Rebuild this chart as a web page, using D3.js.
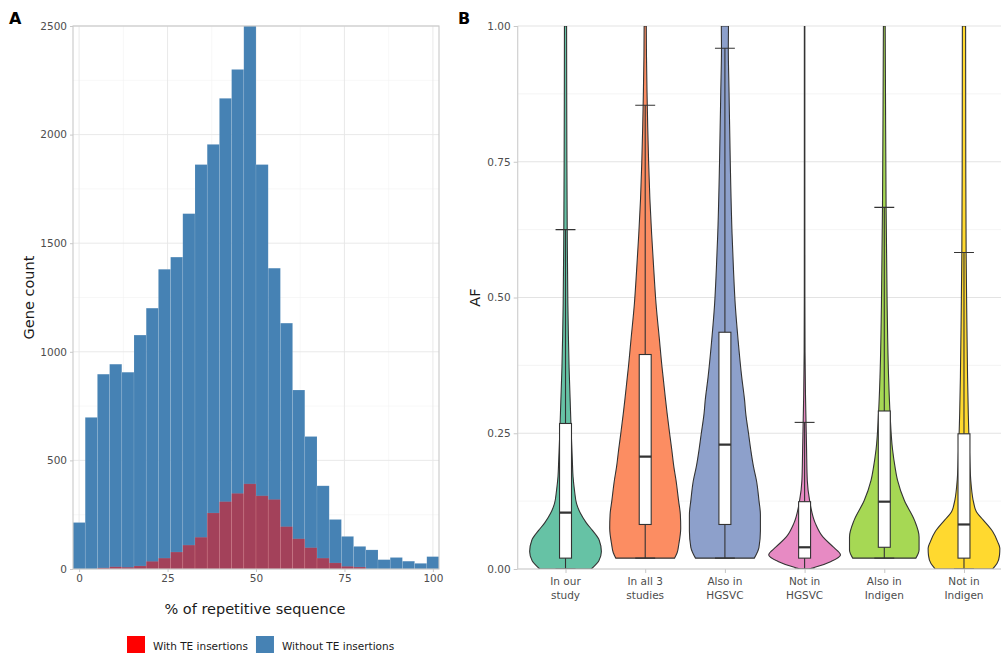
<!DOCTYPE html>
<html>
<head>
<meta charset="utf-8">
<script src="https://cdn.jsdelivr.net/npm/d3@7"></script>
<style>
  html, body { margin: 0; padding: 0; background: #fff; }
  svg { display: block; font-family: "DejaVu Sans", sans-serif; }
</style>
</head>
<body>
<svg id="chart" width="1001" height="653"></svg>
<script>
// ---------------- Panel A data ----------------
const binCount = 30;
const binRange = [0, 100];
const withoutTE = [214, 698, 897, 943, 906, 1077, 1201, 1380, 1436, 1636, 1862, 1955, 2167, 2300, 2500,
                   1862, 1385, 1132, 824, 610, 383, 228, 150, 104, 88, 43, 53, 36, 26, 57];
const withTE = [0, 0, 5, 10, 8, 14, 35, 50, 78, 110, 146, 258, 310, 348, 392,
                337, 320, 195, 139, 98, 50, 28, 12, 9, 0, 0, 0, 0, 0, 0];
const histXTicks = [0, 25, 50, 75, 100];
const histYTicks = [0, 500, 1000, 1500, 2000, 2500];
const legendLabels = ["With TE insertions", "Without TE insertions"];

// ---------------- Panel B data ----------------
const groups = ["In our study", "In all 3 studies", "Also in HGSVC", "Not in HGSVC", "Also in Indigen", "Not in Indigen"];
const groupLabels = [["In our", "study"], ["In all 3", "studies"], ["Also in", "HGSVC"], ["Not in", "HGSVC"], ["Also in", "Indigen"], ["Not in", "Indigen"]];
const groupColors = ["#66C2A5", "#FC8D62", "#8DA0CB", "#E78AC3", "#A6D854", "#FFD92F"];
// box stats
const boxMin = [0.00, 0.02, 0.02, 0.00, 0.02, 0.00];
const boxQ1 = [0.020, 0.082, 0.082, 0.020, 0.040, 0.020];
const boxMed = [0.104, 0.207, 0.229, 0.040, 0.124, 0.082];
const boxQ3 = [0.268, 0.395, 0.436, 0.124, 0.291, 0.249];
const boxMax = [0.625, 0.854, 0.959, 0.270, 0.666, 0.583];
// violin outlines: [AF, relative half-width]
const violinInOurStudy = [[0,0.72],[0.015,0.93],[0.032,1.0],[0.053,0.94],[0.071,0.75],[0.085,0.58],[0.102,0.42],[0.12,0.31],[0.145,0.25],[0.17,0.21],[0.2,0.19],[0.25,0.16],[0.31,0.13],[0.37,0.1],[0.43,0.08],[0.49,0.065],[0.62,0.048],[0.75,0.038],[0.88,0.033],[1.0,0.03]];
const violinInAll3 = [[0.02,0.82],[0.03,0.89],[0.047,0.94],[0.075,0.99],[0.1,0.98],[0.126,0.93],[0.163,0.86],[0.1875,0.8],[0.22,0.74],[0.25,0.68],[0.287,0.61],[0.31,0.57],[0.353,0.5],[0.371,0.47],[0.42,0.4],[0.49,0.3],[0.55,0.24],[0.616,0.18],[0.682,0.13],[0.75,0.095],[0.814,0.07],[0.88,0.05],[0.946,0.035],[1.0,0.03]];
const violinAlsoHGSVC = [[0.02,0.82],[0.04,0.95],[0.07,0.99],[0.1,0.99],[0.126,0.95],[0.163,0.88],[0.1875,0.8],[0.22,0.72],[0.249,0.66],[0.287,0.58],[0.31,0.55],[0.353,0.47],[0.42,0.37],[0.485,0.29],[0.55,0.24],[0.616,0.2],[0.748,0.15],[0.88,0.115],[0.96,0.095],[1.0,0.1]];
const violinNotHGSVC = [[0,0.12],[0.004,0.33],[0.014,0.74],[0.026,1.0],[0.041,0.79],[0.059,0.51],[0.084,0.3],[0.126,0.14],[0.163,0.075],[0.22,0.055],[0.27,0.04],[0.32,0.025],[0.4,0.012],[0.5,0.008],[0.75,0.007],[1.0,0.007]];
const violinAlsoIndigen = [[0.02,0.88],[0.035,0.97],[0.059,0.97],[0.09,0.84],[0.126,0.56],[0.163,0.37],[0.1875,0.3],[0.22,0.23],[0.287,0.16],[0.353,0.12],[0.485,0.08],[0.67,0.05],[0.85,0.035],[1.0,0.025]];
const violinNotIndigen = [[0,0.8],[0.01,0.92],[0.025,0.99],[0.038,1.0],[0.05,0.94],[0.069,0.8],[0.09,0.54],[0.105,0.35],[0.122,0.27],[0.155,0.2],[0.22,0.15],[0.287,0.12],[0.353,0.1],[0.485,0.075],[0.583,0.06],[0.75,0.05],[1.0,0.045]];
const violins = [violinInOurStudy, violinInAll3, violinAlsoHGSVC, violinNotHGSVC, violinAlsoIndigen, violinNotIndigen];
const afTicks = [0, 0.25, 0.5, 0.75, 1.0];

const svg = d3.select("#chart");
const tickColor = "#4d4d4d";

// ================= Panel A =================
const binWidth = (binRange[1] - binRange[0]) / (binCount - 1);
const A = {left: 73, right: 439, top: 26, bottom: 569};
const xA = d3.scaleLinear().domain([binRange[0] - binWidth / 2, binRange[1] + binWidth / 2]).range([A.left, A.right]);
const yA = d3.scaleLinear().domain([0, 2500]).range([A.bottom, A.top]);

const gA = svg.append("g");
const minorX = histXTicks.slice(0, -1).map((d, i) => (d + histXTicks[i + 1]) / 2);
const minorY = histYTicks.slice(0, -1).map((d, i) => (d + histYTicks[i + 1]) / 2);
gA.selectAll(".mgx").data(minorX).join("line")
  .attr("x1", d => xA(d)).attr("x2", d => xA(d)).attr("y1", A.top).attr("y2", A.bottom)
  .attr("stroke", "#f2f2f2").attr("stroke-width", 0.6);
gA.selectAll(".mgy").data(minorY).join("line")
  .attr("x1", A.left).attr("x2", A.right).attr("y1", d => yA(d)).attr("y2", d => yA(d))
  .attr("stroke", "#f2f2f2").attr("stroke-width", 0.6);
gA.selectAll(".Mgx").data(histXTicks).join("line")
  .attr("x1", d => xA(d)).attr("x2", d => xA(d)).attr("y1", A.top).attr("y2", A.bottom)
  .attr("stroke", "#e6e6e6").attr("stroke-width", 0.9);
gA.selectAll(".Mgy").data(histYTicks).join("line")
  .attr("x1", A.left).attr("x2", A.right).attr("y1", d => yA(d)).attr("y2", d => yA(d))
  .attr("stroke", "#e6e6e6").attr("stroke-width", 0.9);

const bins = withoutTE.map((v, i) => ({i, x0: binRange[0] + (i - 0.5) * binWidth, x1: binRange[0] + (i + 0.5) * binWidth, blue: v, red: withTE[i]}));
gA.selectAll(".blue").data(bins).join("rect")
  .attr("x", d => xA(d.x0)).attr("width", d => xA(d.x1) - xA(d.x0))
  .attr("y", d => yA(d.blue)).attr("height", d => yA(0) - yA(d.blue))
  .attr("fill", "#4682B4").attr("stroke", "rgba(255,255,255,0.18)").attr("stroke-width", 0.6);
gA.selectAll(".red").data(bins.filter(d => d.red > 0)).join("rect")
  .attr("x", d => xA(d.x0)).attr("width", d => xA(d.x1) - xA(d.x0))
  .attr("y", d => yA(d.red)).attr("height", d => yA(0) - yA(d.red))
  .attr("fill", "#FF0000").attr("fill-opacity", 0.5).attr("stroke", "rgba(255,255,255,0.12)").attr("stroke-width", 0.6);

gA.append("rect").attr("x", A.left).attr("y", A.top).attr("width", A.right - A.left).attr("height", A.bottom - A.top)
  .attr("fill", "none").attr("stroke", "#c9c9c9").attr("stroke-width", 1.1);

const axAx = gA.append("g").attr("transform", `translate(0,${A.bottom})`)
  .call(d3.axisBottom(xA).tickValues(histXTicks).tickSize(3).tickPadding(3).tickFormat(d3.format("d")));
const axAy = gA.append("g").attr("transform", `translate(${A.left},0)`)
  .call(d3.axisLeft(yA).tickValues(histYTicks).tickSize(3).tickPadding(3).tickFormat(d3.format("d")));
[axAx, axAy].forEach(ax => {
  ax.select(".domain").remove();
  ax.selectAll(".tick line").attr("stroke", "#c9c9c9");
  ax.selectAll(".tick text").attr("fill", tickColor).style("font-size", "10.5px").style("font-family", "DejaVu Sans");
});

gA.append("text").attr("x", (A.left + A.right) / 2 - 1).attr("y", 614).attr("text-anchor", "middle")
  .style("font-size", "14.5px").attr("fill", "#1a1a1a").text("% of repetitive sequence");
gA.append("text").attr("transform", `translate(34,${(A.top + A.bottom) / 2}) rotate(-90)`).attr("text-anchor", "middle")
  .style("font-size", "14.5px").attr("fill", "#1a1a1a").text("Gene count");

const legendColors = ["#FF0000", "#4682B4"];
let lx = 127;
legendLabels.forEach((lab, i) => {
  gA.append("rect").attr("x", lx).attr("y", 636).attr("width", 18).attr("height", 18).attr("fill", legendColors[i]);
  const t = gA.append("text").attr("x", lx + 26).attr("y", 649.5).style("font-size", "10.5px").attr("fill", "#1a1a1a").text(lab);
  lx = lx + 26 + t.node().getComputedTextLength() + 8;
});

// ================= Panel B =================
const B = {left: 517.7, right: 1011.8, top: 26, bottom: 569};
const xB = d3.scalePoint().domain(groups).range([B.left, B.right]).padding(0.6);
const step = xB.step();
const yB = d3.scaleLinear().domain([0, 1]).range([B.bottom, B.top]);
const gB = svg.append("g");

const minorAF = afTicks.slice(0, -1).map((d, i) => (d + afTicks[i + 1]) / 2);
gB.selectAll(".mg").data(minorAF).join("line")
  .attr("x1", B.left).attr("x2", B.right).attr("y1", d => yB(d)).attr("y2", d => yB(d))
  .attr("stroke", "#efefef").attr("stroke-width", 0.7);
gB.selectAll(".Mg").data(afTicks).join("line")
  .attr("x1", B.left).attr("x2", B.right).attr("y1", d => yB(d)).attr("y2", d => yB(d))
  .attr("stroke", "#e3e3e3").attr("stroke-width", 1);

svg.append("defs").append("clipPath").attr("id", "clipB")
  .append("rect").attr("x", B.left).attr("y", B.top).attr("width", B.right - B.left).attr("height", B.bottom - B.top);
const plotB = gB.append("g").attr("clip-path", "url(#clipB)");

const lineCol = "#333333";
groups.forEach((g, i) => {
  const cx = xB(g);
  const maxHalf = 0.45 * step;
  const area = d3.area()
    .y(d => yB(d[0]))
    .x0(d => cx - d[1] * maxHalf)
    .x1(d => cx + d[1] * maxHalf)
    .curve(d3.curveMonotoneY);
  plotB.append("path").attr("d", area(violins[i]))
    .attr("fill", groupColors[i]).attr("stroke", lineCol).attr("stroke-width", 1.1).attr("stroke-linejoin", "round");
  const capHalf = 0.125 * step;
  plotB.append("line").attr("x1", cx).attr("x2", cx).attr("y1", yB(boxMin[i])).attr("y2", yB(boxMax[i]))
    .attr("stroke", lineCol).attr("stroke-width", 1.1);
  [boxMin[i], boxMax[i]].forEach(v => {
    plotB.append("line").attr("x1", cx - capHalf).attr("x2", cx + capHalf).attr("y1", yB(v)).attr("y2", yB(v))
      .attr("stroke", lineCol).attr("stroke-width", 1.1);
  });
  const boxHalf = 0.075 * step;
  plotB.append("rect").attr("x", cx - boxHalf).attr("width", 2 * boxHalf)
    .attr("y", yB(boxQ3[i])).attr("height", yB(boxQ1[i]) - yB(boxQ3[i]))
    .attr("fill", "#ffffff").attr("stroke", lineCol).attr("stroke-width", 1.1);
  plotB.append("line").attr("x1", cx - boxHalf).attr("x2", cx + boxHalf).attr("y1", yB(boxMed[i])).attr("y2", yB(boxMed[i]))
    .attr("stroke", lineCol).attr("stroke-width", 2.2);
});

gB.append("line").attr("x1", B.left).attr("x2", B.left).attr("y1", B.top).attr("y2", B.bottom)
  .attr("stroke", "#d0d0d0").attr("stroke-width", 1.2);
gB.append("line").attr("x1", B.left).attr("x2", B.right).attr("y1", B.bottom).attr("y2", B.bottom)
  .attr("stroke", "#d0d0d0").attr("stroke-width", 1.2);

const axBy = gB.append("g").attr("transform", `translate(${B.left},0)`)
  .call(d3.axisLeft(yB).tickValues(afTicks).tickSize(4).tickPadding(3).tickFormat(d3.format(".2f")));
const axBx = gB.append("g").attr("transform", `translate(0,${B.bottom})`)
  .call(d3.axisBottom(xB).tickSize(4).tickPadding(3).tickFormat(""));
[axBx, axBy].forEach(ax => {
  ax.select(".domain").remove();
  ax.selectAll(".tick line").attr("stroke", "#c8c8c8");
  ax.selectAll(".tick text").attr("fill", tickColor).style("font-size", "10.5px").style("font-family", "DejaVu Sans");
});
groups.forEach((g, i) => {
  const t = gB.append("text").attr("text-anchor", "middle").attr("fill", tickColor).style("font-size", "10.5px");
  groupLabels[i].forEach((ln, j) => {
    t.append("tspan").attr("x", xB(g)).attr("y", 585 + j * 13.5).text(ln);
  });
});

gB.append("text").attr("transform", `translate(480,${(B.top + B.bottom) / 2}) rotate(-90)`).attr("text-anchor", "middle")
  .style("font-size", "14.5px").attr("fill", "#1a1a1a").text("AF");

svg.append("text").attr("x", 9).attr("y", 24).style("font-size", "16px").style("font-weight", "bold").attr("fill", "#000").text("A");
svg.append("text").attr("x", 458).attr("y", 24).style("font-size", "16px").style("font-weight", "bold").attr("fill", "#000").text("B");
</script>
</body>
</html>
